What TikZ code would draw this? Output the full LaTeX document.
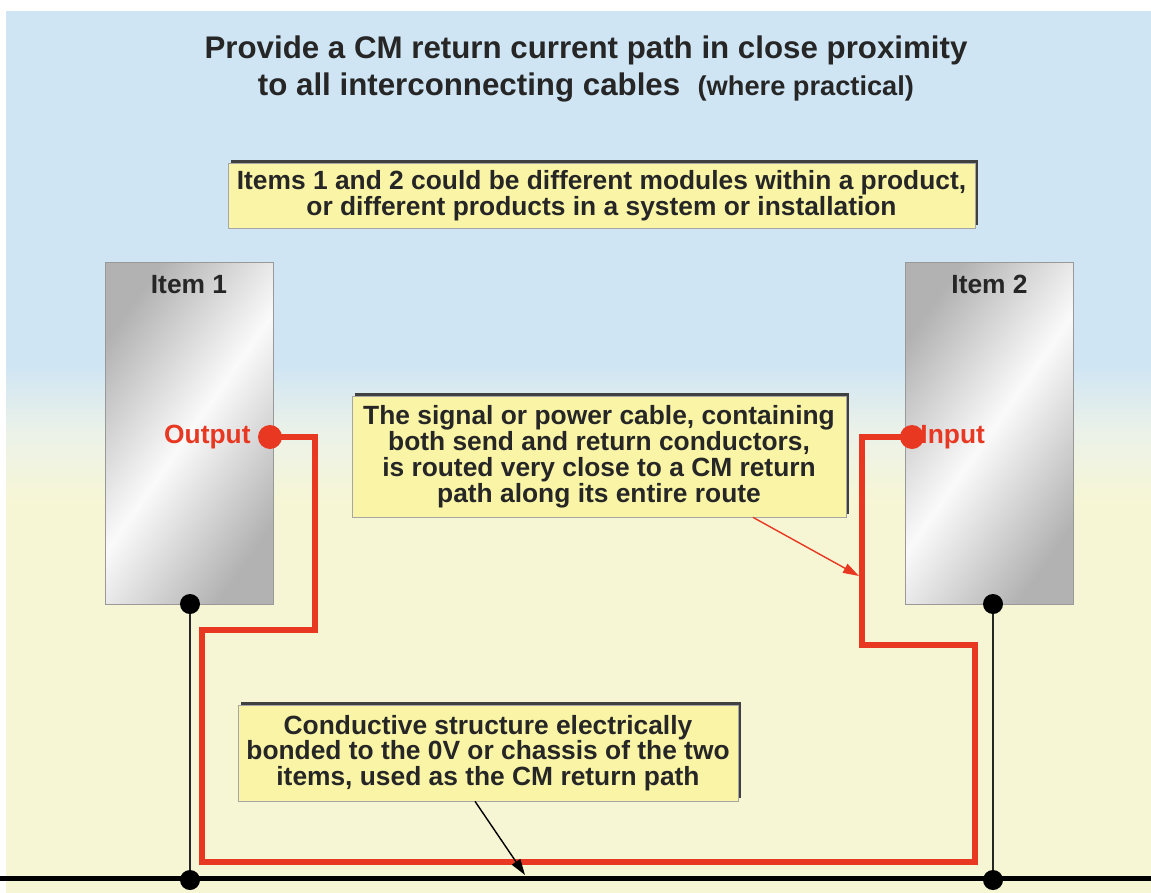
\documentclass[tikz,border=0pt]{standalone}
\usepackage{fontspec}
\setmainfont{Liberation Sans}
\usetikzlibrary{positioning,shadows,arrows.meta}

\definecolor{skyblue}{RGB}{207,229,244}
\definecolor{mistwhite}{RGB}{236,242,232}
\definecolor{paleyellow}{RGB}{247,246,212}
\definecolor{notefill}{RGB}{250,245,166}
\definecolor{cablered}{RGB}{232,56,34}

\pgfdeclareverticalshading{skyground}{100bp}{color(0bp)=(paleyellow); color(25bp)=(paleyellow); color(47bp)=(paleyellow); color(51bp)=(mistwhite); color(55bp)=(skyblue); color(75bp)=(skyblue); color(100bp)=(skyblue)}

\tikzset{
  note/.style={draw=gray!70, fill=notefill, align=center, inner sep=2pt,
    font=\bfseries\fontsize{15}{14.7}\selectfont, text=black!85,
    drop shadow={shadow xshift=0.06cm, shadow yshift=0.06cm, fill=black!75, opacity=1}},
  item/.style={draw=gray!80, minimum width=3.36cm, minimum height=6.84cm,
    left color=gray!60, right color=gray!60, middle color=gray!4, shading angle=55},
  itemlabel/.style={font=\bfseries\fontsize{15}{18}\selectfont, text=black!85},
  portlabel/.style={font=\bfseries\fontsize{15}{18}\selectfont, text=cablered, inner sep=1pt},
  port/.style={circle, fill=cablered, minimum size=0.48cm, inner sep=0pt},
  bond/.style={circle, fill=black, minimum size=0.4cm, inner sep=0pt},
  cable/.style={cablered, line width=0.12cm, line join=miter},
  pointer/.style={line width=0.8pt, -{Triangle[length=0.32cm,width=0.2cm]}}
}

\begin{document}
\begin{tikzpicture}[x=0.02cm, y=-0.02cm]
  \useasboundingbox (0,0) rectangle (1151,892);
  \fill[shading=skyground] (6,12) rectangle (1151,892);

  % heading
  \node[align=center, font=\bfseries\fontsize{17.8}{21.5}\selectfont, text=black!85] (title) at (586,69)
    {Provide a CM return current path in close proximity\\
     to all interconnecting cables \ {\fontsize{15.5}{21.5}\selectfont(where practical)}};

  % notes
  \node[note, minimum width=14.94cm, minimum height=1.3cm] (note1) at (601.5,195.5)
    {Items 1 and 2 could be different modules within a product,\\
     or different products in a system or installation};

  % the two items
  \node[item] (item1) at (189,433) {};
  \node[item] (item2) at (989.5,433) {};
  \node[itemlabel, below=0.14cm of item1.north] (lbl1) {Item 1};
  \node[itemlabel, below=0.14cm of item2.north] (lbl2) {Item 2};

  % bonding points and ground structure
  \node[bond] (b1) at (190,604) {};
  \node[bond] (b2) at (993,604) {};
  \node[bond] (g1) at (190,880) {};
  \node[bond] (g2) at (993,880) {};
  \coordinate (gl) at (0,878);
  \coordinate (gr) at (1151,878);
  \draw[line width=0.055cm, black!85] (b1) -- (g1);
  \draw[line width=0.055cm, black!85] (b2) -- (g2);
  \draw[line width=0.1cm] (gl) -- (gr);

  % cable
  \node[port] (out) at (270,437) {};
  \node[port] (in) at (912,437) {};
  \draw[cable] (out.center) -- (315,437) |- (202,630) |- (975,862) |- (862,645) |- (in.center);
  \node[portlabel, left=0.1cm of out] (outlbl) {Output};
  \node[portlabel, right=-0.12cm of in] (inlbl) {Input};

  \node[note, minimum width=9.88cm, minimum height=2.42cm] (note2) at (599,456.5)
    {The signal or power cable, containing\\
     both send and return conductors,\\
     is routed very close to a CM return\\
     path along its entire route};
  \node[note, minimum width=10cm, minimum height=1.92cm] (note3) at (488,753)
    {Conductive structure electrically\\
     bonded to the 0V or chassis of the two\\
     items, used as the CM return path};

  % pointers
  \coordinate (tip2) at (859,576);
  \coordinate (tip3) at (525,875);
  \draw[pointer, cablered] ([xshift=3.08cm]note2.south) -- (tip2);
  \draw[pointer, black] ([xshift=-0.26cm]note3.south) -- (tip3);
\end{tikzpicture}
\end{document}
